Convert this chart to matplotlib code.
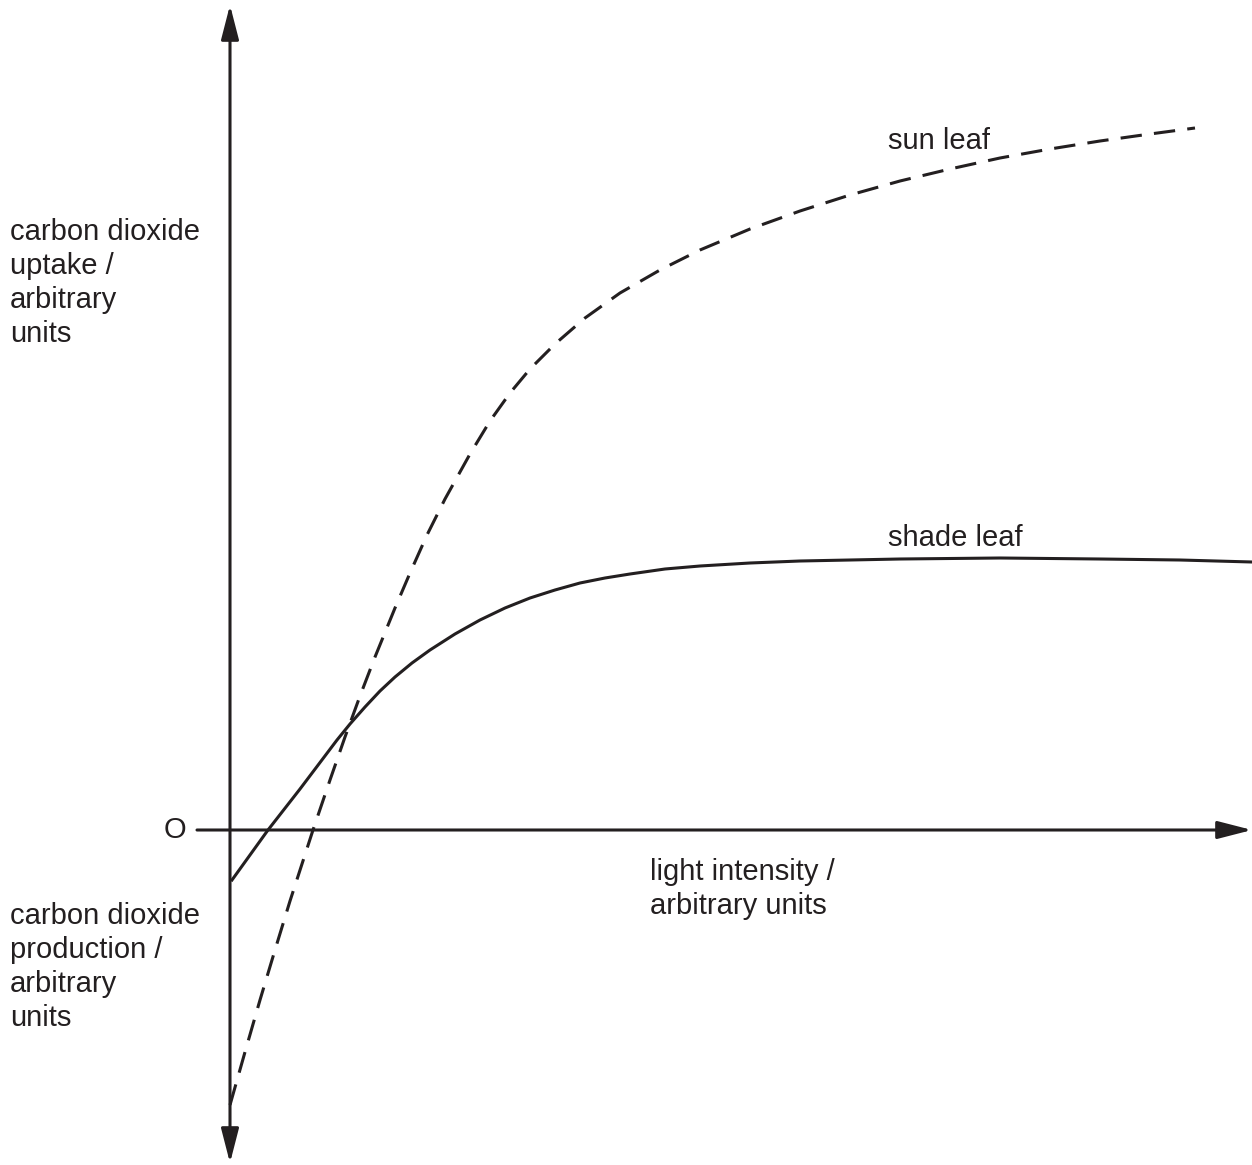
import matplotlib
matplotlib.use("Agg")
import matplotlib.pyplot as plt

# light intensity (x) and CO2 uptake (y), arbitrary units, origin at O
sun_x = [0, 15, 30, 45, 60, 83, 100, 115, 130, 145, 165, 180, 197, 215, 240, 260,
         280, 300, 325, 355, 390, 430, 470, 520, 570, 620, 670, 720, 770, 820,
         870, 920, 965]
sun_y = [-275, -222, -170, -120, -71, 0, 50, 93, 134, 173, 222, 257, 295, 331,
         376, 409, 437, 461, 486, 512, 537, 560, 580, 601, 619, 635, 649, 661,
         672, 681, 689, 696, 702]

shade_x = [2, 38, 70, 107, 120, 135, 150, 165, 182, 200, 225, 250, 275, 300, 325,
           350, 375, 400, 435, 470, 520, 570, 670, 770, 870, 950, 1022]
shade_y = [-50, 0, 41, 90, 106, 123, 139, 153, 167, 180, 196, 210, 222, 232, 240,
           247, 252, 256, 261, 264, 267, 269, 271, 272, 271, 270, 268]

plt.rcParams['font.family'] = ['Liberation Sans', 'DejaVu Sans']

fig = plt.figure(figsize=(12.52, 11.65), dpi=100)
ax = fig.add_axes([0, 0, 1, 1])
ax.set_xlim(-230, 1022)
ax.set_ylim(-335, 830)
ax.axis("off")

lw = 2.2
col = "#231f20"

# axes with arrow heads
arrow = dict(arrowstyle="-|>,head_length=1.05,head_width=0.27", mutation_scale=20,
             lw=lw, color=col, shrinkA=0, shrinkB=0)
ax.annotate("", xy=(0, 825), xytext=(0, 0), arrowprops=arrow)
ax.annotate("", xy=(0, -333), xytext=(0, 0), arrowprops=arrow)
ax.annotate("", xy=(1022, 0), xytext=(-33, 0), arrowprops=arrow)

ax.plot(sun_x, sun_y, color=col, lw=lw, dashes=(7, 4))
ax.plot(shade_x, shade_y, color=col, lw=lw)

fs = 21
ls = 1.27
ax.text(-55, 0, "O", fontsize=fs, color=col, ha="center", va="center")
ax.text(-220, 612, "carbon dioxide\nuptake /\narbitrary\nunits", fontsize=fs,
        color=col, ha="left", va="top", linespacing=ls)
ax.text(-220, -72, "carbon dioxide\nproduction /\narbitrary\nunits", fontsize=fs,
        color=col, ha="left", va="top", linespacing=ls)
ax.text(420, -28, "light intensity /\narbitrary units", fontsize=fs,
        color=col, ha="left", va="top", linespacing=ls)
ax.text(658, 689, "sun leaf", fontsize=fs, color=col, ha="left", va="center")
ax.text(658, 292, "shade leaf", fontsize=fs, color=col, ha="left", va="center")

fig.savefig("out.png", dpi=100, facecolor="white")
